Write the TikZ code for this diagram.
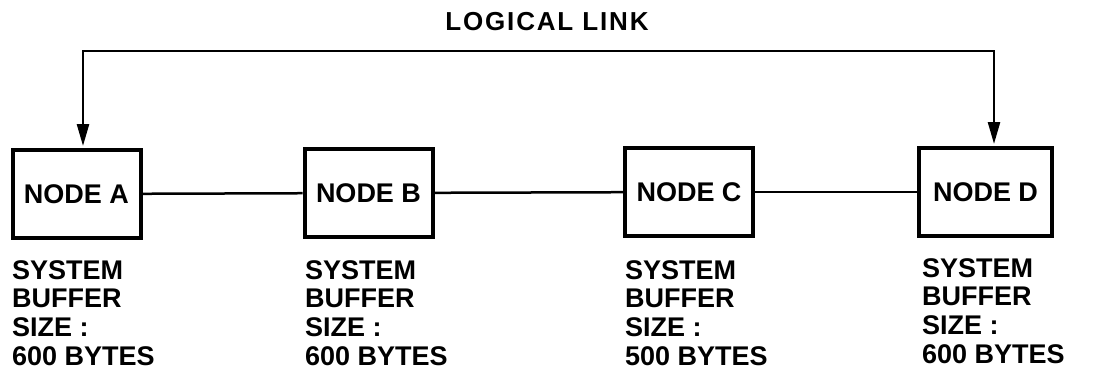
\documentclass[tikz,border=0pt]{standalone}
\usepackage{fontspec}
\setmainfont{Liberation Sans}
\usetikzlibrary{arrows.meta}
\tikzset{
  nodebox/.style={draw, line width=4pt, minimum width=128pt, minimum height=88pt,
    inner sep=0pt, font=\bfseries\fontsize{27}{28.7}\selectfont},
  wire/.style={line width=2.5pt},
  bufsize/.style={anchor=north west, inner sep=0pt, align=left,
    font=\bfseries\fontsize{27}{28.7}\selectfont}
}
\begin{document}
\begin{tikzpicture}[x=1pt, y=-1pt]
  \useasboundingbox (0,0) rectangle (1102,373);
  % Title
  \node[font=\bfseries\fontsize{26}{28}\selectfont\addfontfeature{LetterSpace=7}] (title) at (547,22) {LOGICAL LINK};
  % Nodes
  \node[nodebox] (A) at (76.5,194) {NODE A};
  \node[nodebox] (B) at (368.5,193) {NODE B};
  \node[nodebox] (C) at (689,192) {NODE C};
  \node[nodebox, minimum width=133pt] (D) at (985.5,192) {NODE D};
  % Physical links
  \draw[wire] (A) -- (B);
  \draw[wire] (B) -- (C);
  \draw[wire] (C) -- (D);
  % Logical link
  \coordinate (topL) at (83,51);
  \coordinate (topR) at (994,51);
  \draw[wire, {Triangle[length=22pt,width=12pt]}-{Triangle[length=22pt,width=12pt]},
    shorten <=2pt, shorten >=2pt]
    (topL |- A.north) -- (topL) -- (topR) -- (topR |- D.north);
  % Buffer sizes
  \node[bufsize] (bufA) at (12,260) {SYSTEM\\BUFFER\\SIZE :\\600 BYTES};
  \node[bufsize] (bufB) at (305,260) {SYSTEM\\BUFFER\\SIZE :\\600 BYTES};
  \node[bufsize] (bufC) at (625,260) {SYSTEM\\BUFFER\\SIZE :\\500 BYTES};
  \node[bufsize] (bufD) at (922,258) {SYSTEM\\BUFFER\\SIZE :\\600 BYTES};
\end{tikzpicture}
\end{document}
